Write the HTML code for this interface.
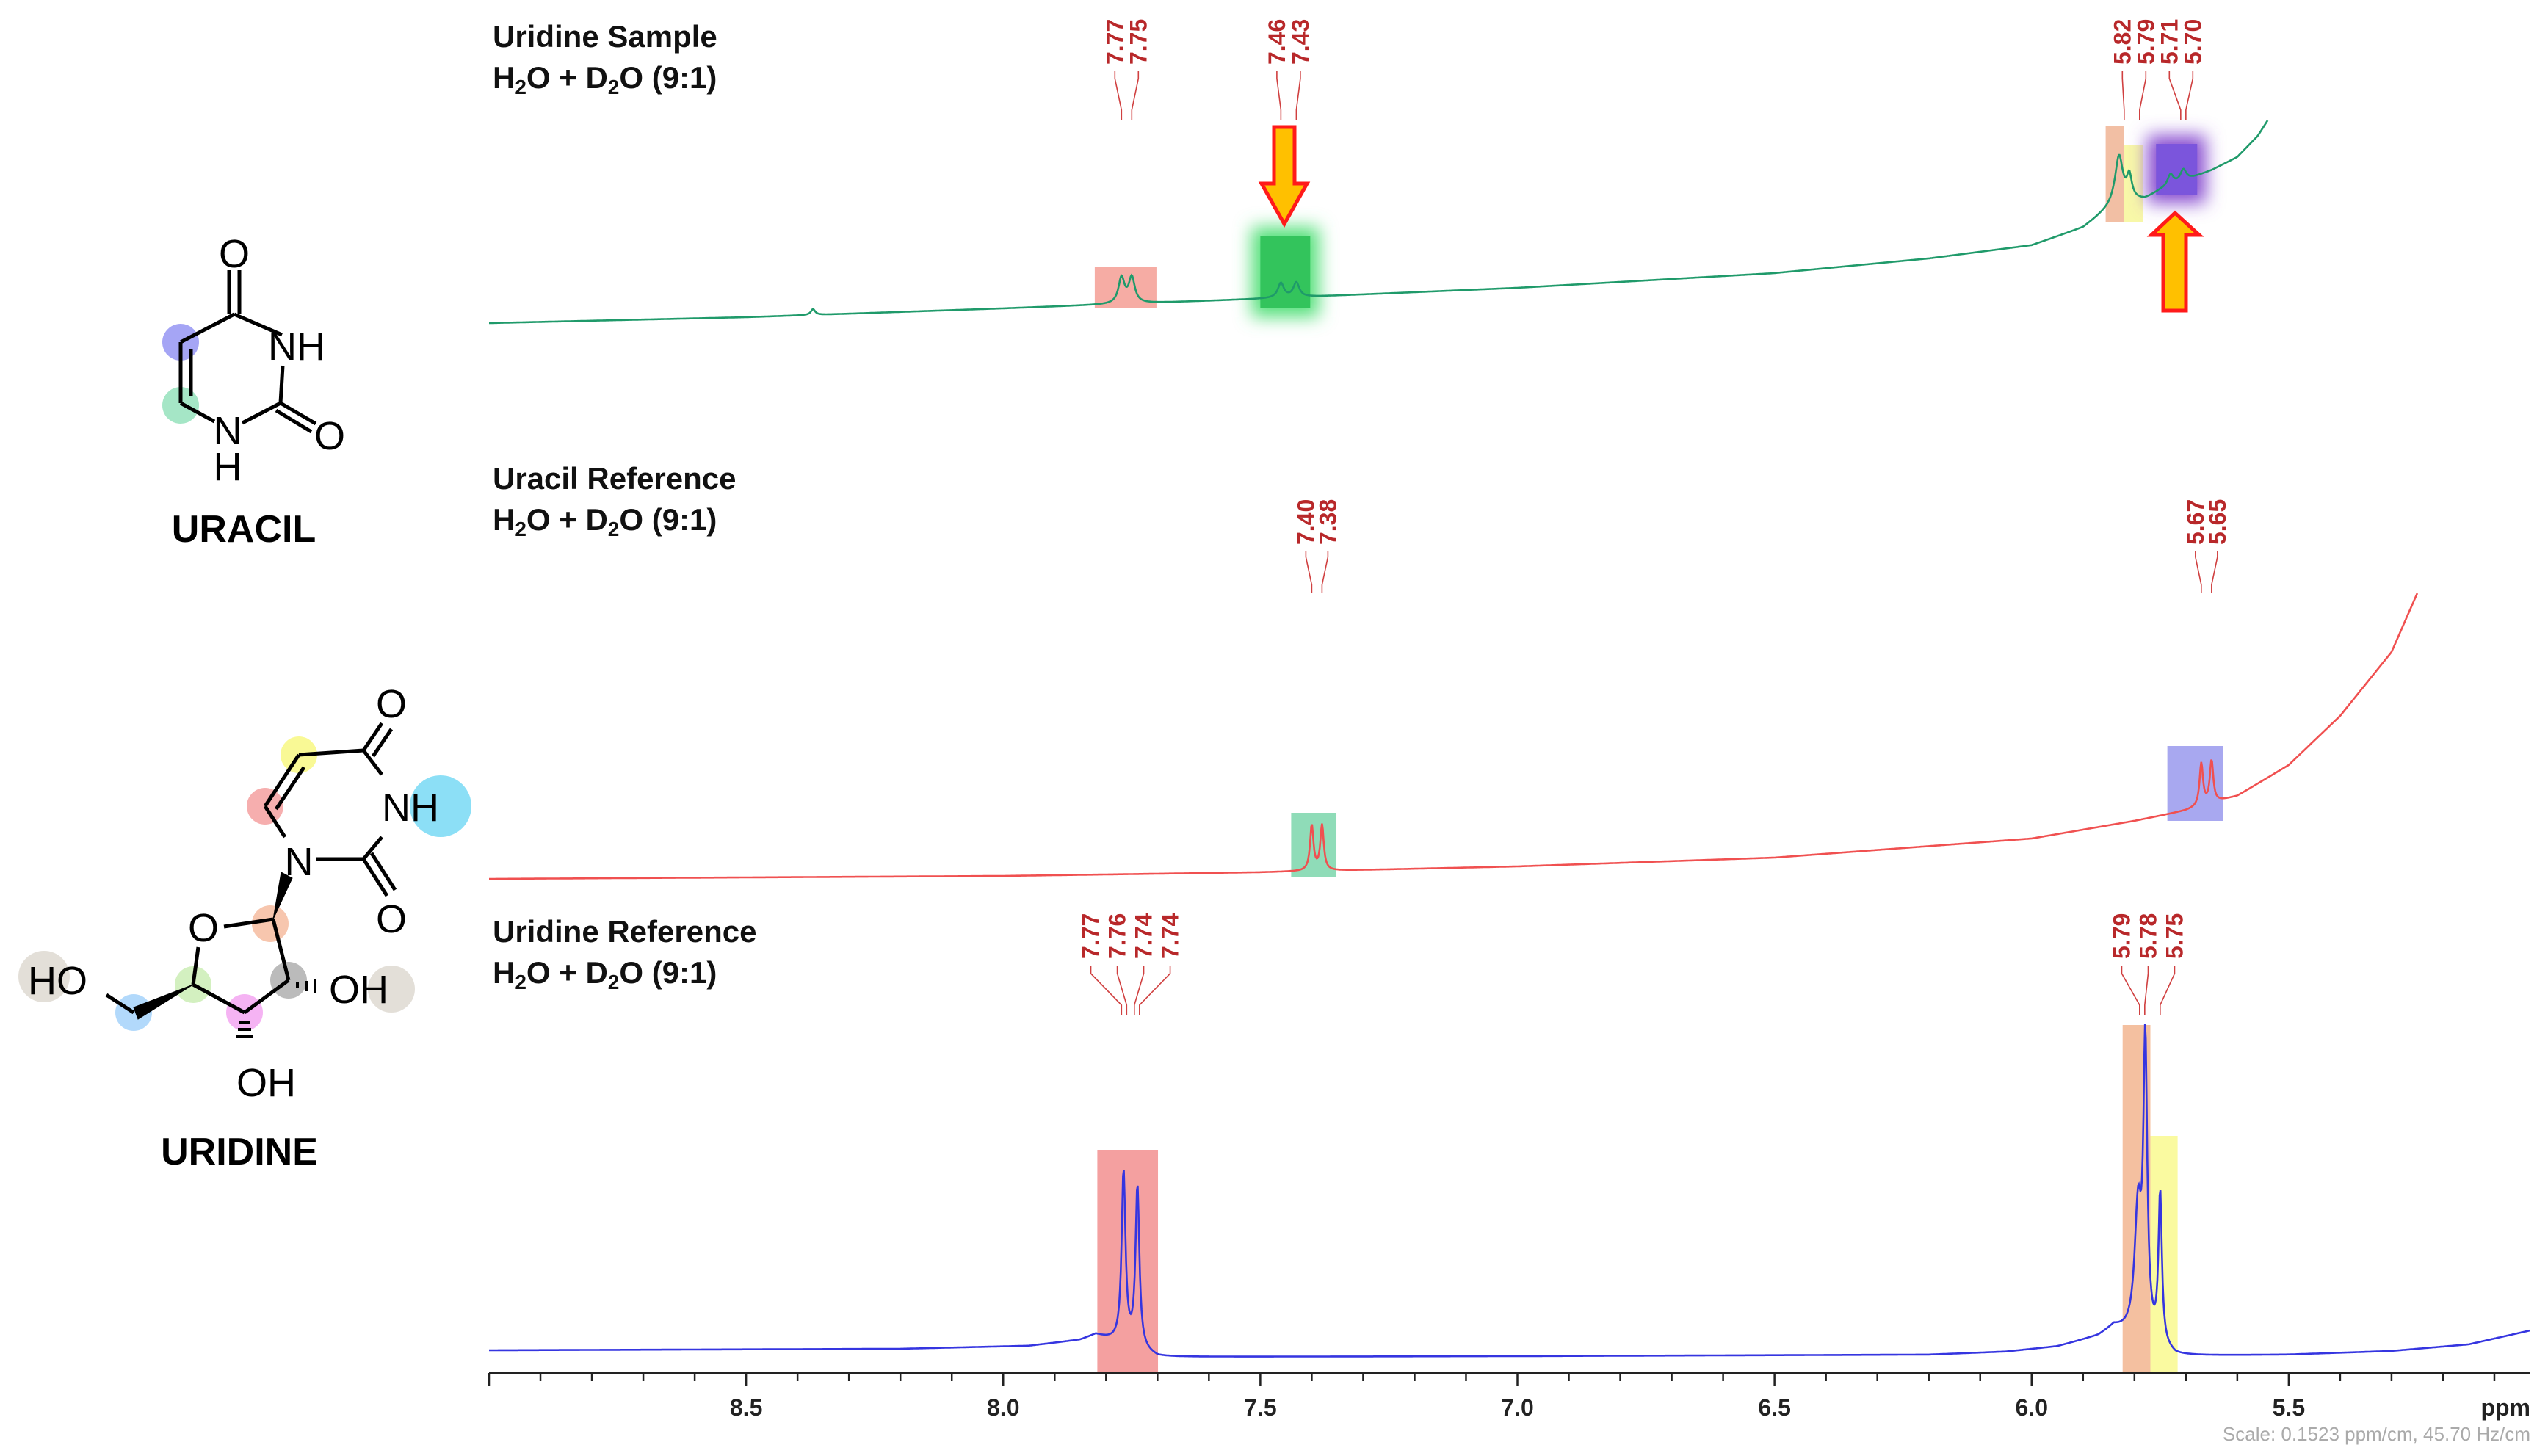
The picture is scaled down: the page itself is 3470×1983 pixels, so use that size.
<!DOCTYPE html>
<html><head><meta charset="utf-8"><style>
html,body{margin:0;padding:0;background:#fff;}
svg{display:block;font-family:"Liberation Sans",Arial,sans-serif;}
</style></head><body>
<svg id="chart" width="3470" height="1983" viewBox="0 0 3470 1983" xmlns="http://www.w3.org/2000/svg">
<defs>
<filter id="glow" x="-50%" y="-50%" width="200%" height="200%"><feGaussianBlur stdDeviation="12"/></filter>
</defs>
<!-- Uracil molecule -->
<g stroke="#000" stroke-width="5" fill="none">
<circle cx="246" cy="466" r="25" fill="#8f8ff2" stroke="none" opacity="0.8"/>
<circle cx="246" cy="552" r="25" fill="#8fe0b8" stroke="none" opacity="0.8"/>
<line x1="319" y1="428" x2="246" y2="466"/>
<line x1="246" y1="466" x2="246" y2="549"/>
<line x1="260" y1="476" x2="260" y2="540"/>
<line x1="246" y1="549" x2="292" y2="574"/>
<line x1="330" y1="576" x2="382" y2="549"/>
<line x1="382" y1="549" x2="430" y2="577"/>
<line x1="376" y1="559" x2="424" y2="588"/>
<line x1="382" y1="549" x2="385" y2="498"/>
<line x1="384" y1="456" x2="319" y2="428"/>
<line x1="312" y1="428" x2="312" y2="368"/>
<line x1="326" y1="428" x2="326" y2="368"/>
</g>
<g font-size="54" fill="#000">
<text x="319" y="364" text-anchor="middle">O</text>
<text x="365" y="490">NH</text>
<text x="449" y="612" text-anchor="middle">O</text>
<text x="310" y="605" text-anchor="middle">N</text>
<text x="310" y="654" text-anchor="middle">H</text>
</g>
<text x="332" y="738" text-anchor="middle" font-size="52" font-weight="bold">URACIL</text>
<!-- Uridine molecule -->
<g stroke="#000" stroke-width="5" fill="none">
<circle cx="407" cy="1028" r="25" fill="#f7f77a" stroke="none" opacity="0.8"/>
<circle cx="361" cy="1098" r="25" fill="#f49a9a" stroke="none" opacity="0.8"/>
<circle cx="600" cy="1098" r="42" fill="#7fdcf5" stroke="none" opacity="0.9"/>
<circle cx="368" cy="1258" r="25" fill="#f5b89a" stroke="none" opacity="0.8"/>
<circle cx="263" cy="1341" r="25" fill="#c8ecb0" stroke="none" opacity="0.8"/>
<circle cx="333" cy="1379" r="25" fill="#f2a0f0" stroke="none" opacity="0.8"/>
<circle cx="393" cy="1335" r="25" fill="#aaa" stroke="none" opacity="0.8"/>
<circle cx="533" cy="1347" r="32" fill="#e0dcd4" stroke="none" opacity="0.9"/>
<circle cx="60" cy="1330" r="35" fill="#e0dcd4" stroke="none" opacity="0.9"/>
<circle cx="182" cy="1379" r="25" fill="#9fd0fa" stroke="none" opacity="0.8"/>
<line x1="495" y1="1022" x2="407" y2="1028"/>
<line x1="407" y1="1028" x2="361" y2="1098"/>
<line x1="414" y1="1045" x2="376" y2="1102"/>
<line x1="361" y1="1098" x2="388" y2="1140"/>
<line x1="430" y1="1170" x2="495" y2="1170"/>
<line x1="495" y1="1170" x2="520" y2="1140"/>
<line x1="495" y1="1170" x2="527" y2="1220"/>
<line x1="506" y1="1162" x2="538" y2="1212"/>
<line x1="495" y1="1022" x2="520" y2="1055"/>
<line x1="495" y1="1022" x2="520" y2="985"/>
<line x1="508" y1="1030" x2="533" y2="993"/>
<line x1="305" y1="1262" x2="372" y2="1252"/>
<line x1="372" y1="1252" x2="393" y2="1335"/>
<line x1="393" y1="1335" x2="333" y2="1379"/>
<line x1="333" y1="1379" x2="263" y2="1341"/>
<line x1="263" y1="1341" x2="270" y2="1290"/>
<line x1="182" y1="1379" x2="145" y2="1355"/>
</g>
<g fill="#000" stroke="#000">
<polygon points="372,1252 398,1196 383,1188"/>
<polygon points="263,1341 182,1372 188,1388"/>
<g stroke-width="4"><line x1="405" y1="1338" x2="405" y2="1346"/><line x1="417" y1="1336" x2="417" y2="1350"/><line x1="429" y1="1334" x2="429" y2="1352"/>
<line x1="326" y1="1392" x2="340" y2="1392"/><line x1="324" y1="1402" x2="342" y2="1402"/><line x1="322" y1="1412" x2="344" y2="1412"/></g>
</g>
<g font-size="54" fill="#000">
<text x="533" y="977" text-anchor="middle">O</text>
<text x="520" y="1118">NH</text>
<text x="407" y="1192" text-anchor="middle">N</text>
<text x="533" y="1270" text-anchor="middle">O</text>
<text x="277" y="1282" text-anchor="middle">O</text>
<text x="448" y="1366">OH</text>
<text x="322" y="1493">OH</text>
<text x="38" y="1354">HO</text>
</g>
<text x="326" y="1586" text-anchor="middle" font-size="52" font-weight="bold">URIDINE</text>
<!-- titles -->
<g font-size="42" font-weight="bold" fill="#111">
<text x="671" y="64">Uridine Sample</text>
<text x="671" y="120">H<tspan font-size="28" dy="8">2</tspan><tspan dy="-8">O + D</tspan><tspan font-size="28" dy="8">2</tspan><tspan dy="-8">O (9:1)</tspan></text>
<text x="671" y="666">Uracil Reference</text>
<text x="671" y="722">H<tspan font-size="28" dy="8">2</tspan><tspan dy="-8">O + D</tspan><tspan font-size="28" dy="8">2</tspan><tspan dy="-8">O (9:1)</tspan></text>
<text x="671" y="1283">Uridine Reference</text>
<text x="671" y="1339">H<tspan font-size="28" dy="8">2</tspan><tspan dy="-8">O + D</tspan><tspan font-size="28" dy="8">2</tspan><tspan dy="-8">O (9:1)</tspan></text>
</g>
<g id="boxes"></g>
<g id="spectra"></g>
<g id="labels"></g>
<g id="axis"></g>
<!-- arrows -->
<polygon points="1735,173 1763,173 1763,250 1780,250 1749,305 1718,250 1735,250" fill="#ffc000" stroke="#ff1a1a" stroke-width="5"/>
<polygon points="2946,423 2977,423 2977,320 2995,320 2962,290 2930,320 2946,320" fill="#ffc000" stroke="#ff1a1a" stroke-width="5"/>
<text x="3446" y="1962" text-anchor="end" font-size="26" fill="#aaa">Scale: 0.1523 ppm/cm, 45.70 Hz/cm</text>
</svg>
<script>
// axis
const ppmMax = 9.0, ppmMin = 5.03;
const majorTicks = [8.5, 8.0, 7.5, 7.0, 6.5, 6.0, 5.5];
const majorTickLabels = ["8.5", "8.0", "7.5", "7.0", "6.5", "6.0", "5.5"];
// green (uridine sample)
const greenBasePpm = [9.0, 8.5, 8.0, 7.5, 7.0, 6.5, 6.2, 6.0, 5.9, 5.86, 5.84, 5.80, 5.78, 5.75, 5.70, 5.65, 5.6, 5.56, 5.54];
const greenBaseY = [440, 432, 420, 407, 392, 372, 352, 334, 310, 290, 280, 274, 272, 260, 246, 232, 214, 185, 163];
const greenPeakPpm = [8.37, 7.77, 7.75, 7.46, 7.43, 5.83, 5.81, 5.73, 5.705];
const greenPeakH = [8, 35, 35, 20, 20, 65, 32, 16, 16];
const greenPeakW = [0.005, 0.007, 0.007, 0.007, 0.007, 0.009, 0.006, 0.007, 0.007];
const greenLabels = [["7.77", "7.75"], ["7.46", "7.43"], ["5.82", "5.79", "5.71", "5.70"]];
const greenLabelPpm = [[7.77, 7.75], [7.46, 7.43], [5.82, 5.79, 5.71, 5.70]];
// red (uracil reference)
const redBasePpm = [9.0, 8.0, 7.5, 7.0, 6.5, 6.0, 5.8, 5.7, 5.6, 5.5, 5.4, 5.3, 5.25];
const redBaseY = [1197, 1193, 1188, 1180, 1168, 1142, 1118, 1104, 1084, 1042, 975, 888, 808];
const redPeakPpm = [7.40, 7.38, 5.67, 5.65];
const redPeakH = [62, 62, 58, 58];
const redPeakW = [0.004, 0.004, 0.004, 0.004];
const redLabels = [["7.40", "7.38"], ["5.67", "5.65"]];
const redLabelPpm = [[7.40, 7.38], [5.67, 5.65]];
// blue (uridine reference)
const blueBasePpm = [9.0, 8.2, 7.95, 7.85, 7.82, 7.70, 7.0, 6.2, 6.05, 5.95, 5.87, 5.84, 5.72, 5.5, 5.3, 5.15, 5.03];
const blueBaseY = [1839, 1837, 1833, 1825, 1818, 1848, 1847, 1845, 1841, 1834, 1820, 1808, 1847, 1845, 1840, 1831, 1812];
const bluePeakPpm = [7.766, 7.739, 5.793, 5.779, 5.75];
const bluePeakH = [235, 220, 170, 390, 205];
const bluePeakW = [0.0045, 0.0045, 0.008, 0.0045, 0.004];
const blueLabels = [["7.77", "7.76", "7.74", "7.74"], ["5.79", "5.78", "5.75"]];
const blueLabelPpm = [[7.77, 7.76, 7.745, 7.735], [5.79, 5.78, 5.75]];

const NS = "http://www.w3.org/2000/svg";
const X0 = 666, X1 = 3446, AXY = 1870;
function xScale(p){ return X0 + (ppmMax - p) / (ppmMax - ppmMin) * (X1 - X0); }
function mk(tag, attrs, parent){ const e = document.createElementNS(NS, tag); for (const k in attrs) e.setAttribute(k, attrs[k]); parent.appendChild(e); return e; }
function interp(px, py, p){
  for (let i = 0; i < px.length - 1; i++){
    if (p <= px[i] && p >= px[i+1]){ const t = (px[i] - p) / (px[i] - px[i+1]); return py[i] + t * (py[i+1] - py[i]); }
  }
  return p > px[0] ? py[0] : py[py.length-1];
}
function drawSpectrum(name, color, bp, by, pp, ph, pw){
  const g = document.getElementById('spectra');
  let d = "";
  const end = bp[bp.length-1];
  for (let p = bp[0]; p >= end - 1e-9; p -= 0.0015){
    let y = interp(bp, by, p);
    for (let i = 0; i < pp.length; i++){ const u = (p - pp[i]) / pw[i]; y -= ph[i] / (1 + u*u); }
    d += (d ? "L" : "M") + xScale(p).toFixed(1) + "," + y.toFixed(1);
  }
  const path = mk('path', {d: d, fill: 'none', stroke: color, 'stroke-width': 2.6}, g);
  
  
}
function drawLabels(name, groups, ppms, textBottom, lineTop, lineBot, spacing){
  const g = document.getElementById('labels');
  groups.forEach((grp, gi) => {
    const pxs = ppms[gi].map(xScale);
    const c = pxs.reduce((a, b) => a + b, 0) / pxs.length;
    grp.forEach((t, i) => {
      const lx = c + (i - (grp.length - 1) / 2) * spacing;
      const tx = mk('text', {x: lx + 11, y: textBottom, transform: `rotate(-90 ${lx + 11} ${textBottom})`, 'font-size': 32, 'font-weight': 'bold', fill: '#b8282a'}, g);
      tx.textContent = t;
      
      
      const h = lineBot - lineTop;
      const ln = mk('path', {d: `M${lx},${lineTop} L${lx},${lineTop + h*0.15} L${pxs[i]},${lineTop + h*0.8} L${pxs[i]},${lineBot}`, fill: 'none', stroke: '#d04040', 'stroke-width': 1.6}, g);
      
      
    });
  });
}
const bxg = document.getElementById('boxes');
function box(name, p1, p2, y1, y2, color, glow){
  const x1 = xScale(p1), x2 = xScale(p2);
  if (glow){ const gr = mk('rect', {x: x1-12, y: y1-12, width: x2-x1+24, height: y2-y1+24, fill: glow, filter: 'url(#glow)'}, bxg);   }
  const r = mk('rect', {x: x1, y: y1, width: x2-x1, height: y2-y1, fill: color}, bxg);
  
  
}
box('sample-box-7-77', 7.822, 7.702, 363, 420, '#f6aca4');
box('sample-box-7-46', 7.50, 7.403, 321, 420, '#33c45c', '#55e07a');
box('sample-box-5-82', 5.856, 5.820, 172, 302, '#f2bfa4');
box('sample-box-5-79', 5.820, 5.783, 197, 302, '#f8f8a8');
box('sample-box-5-71', 5.758, 5.678, 196, 265, '#7b55dc', '#8a50d0');
box('uracil-box-7-40', 7.440, 7.352, 1107, 1195, '#8fdcb8');
box('uracil-box-5-66', 5.736, 5.627, 1016, 1118, '#a8a8f0');
box('uridine-box-7-75', 7.817, 7.699, 1566, 1870, '#f4a0a0');
box('uridine-box-5-79', 5.823, 5.769, 1396, 1870, '#f4c0a0');
box('uridine-box-5-75', 5.769, 5.716, 1547, 1870, '#fafaa0');

drawSpectrum('uridine-sample-spectrum', '#1f9a6a', greenBasePpm, greenBaseY, greenPeakPpm, greenPeakH, greenPeakW);
drawSpectrum('uracil-reference-spectrum', '#f05050', redBasePpm, redBaseY, redPeakPpm, redPeakH, redPeakW);
drawSpectrum('uridine-reference-spectrum', '#3535e0', blueBasePpm, blueBaseY, bluePeakPpm, bluePeakH, bluePeakW);

drawLabels('sample', greenLabels, greenLabelPpm, 88, 97, 163, 32);
drawLabels('uracil', redLabels, redLabelPpm, 742, 750, 808, 30);
drawLabels('uridine-ref', blueLabels, blueLabelPpm, 1306, 1316, 1382, 36);

const ax = document.getElementById('axis');
const axl = mk('line', {x1: X0, y1: AXY, x2: X1, y2: AXY, stroke: '#222', 'stroke-width': 3}, ax);


for (let k = 0; k <= 40; k++){
  const p = 9.0 - k * 0.1;
  if (p < ppmMin - 1e-6) break;
  const major = Math.abs(p*2 - Math.round(p*2)) < 1e-6;
  const t = mk('line', {x1: xScale(p), y1: AXY, x2: xScale(p), y2: AXY + (major ? 18 : 11), stroke: '#222', 'stroke-width': 2.5}, ax);
  
  
}
majorTicks.forEach((p, i) => {
  const t = mk('text', {x: xScale(p), y: 1928, 'text-anchor': 'middle', 'font-size': 32, 'font-weight': 'bold', fill: '#222'}, ax);
  t.textContent = majorTickLabels[i];
  
  
});
const unit = mk('text', {x: 3446, y: 1928, 'text-anchor': 'end', 'font-size': 32, 'font-weight': 'bold', fill: '#222'}, ax);
unit.textContent = 'ppm';


</script>
</body></html>
